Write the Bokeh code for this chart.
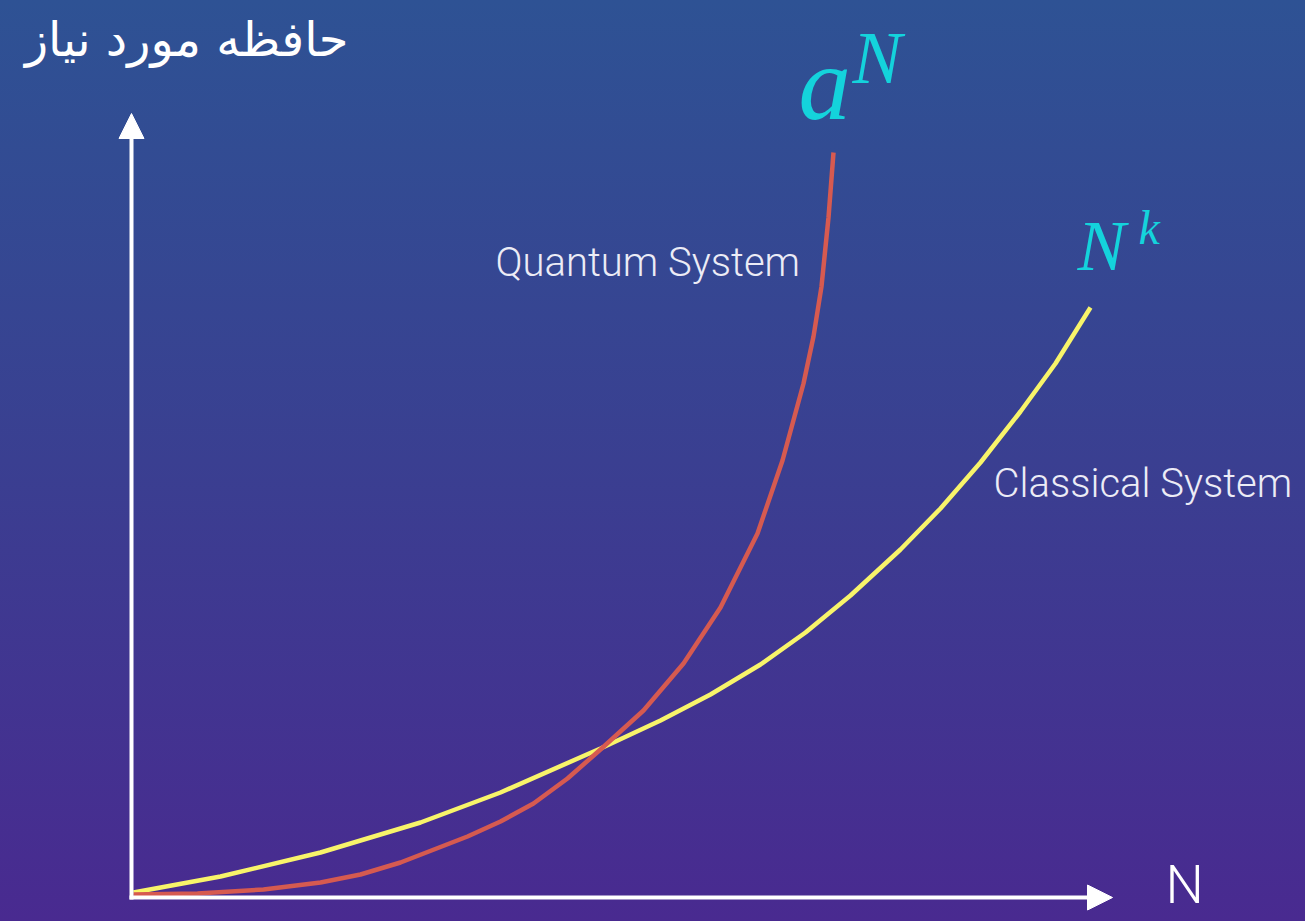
from bokeh.plotting import figure
from bokeh.models import Range1d, Arrow, NormalHead, GlobalInlineStyleSheet, Label
from bokeh.embed import file_html
from bokeh.resources import INLINE

# ---- data (N on x, memory on y; arbitrary units) ----
quantum_x = [0.00, 0.64, 1.30, 1.87, 2.27, 2.67, 3.34, 3.67, 4.00, 4.34,
             4.67, 5.10, 5.50, 5.87, 6.24, 6.49, 6.70, 6.80, 6.88, 6.95, 7.00]
quantum_y = [0.00, 0.01, 0.05, 0.12, 0.20, 0.32, 0.58, 0.73, 0.91, 1.16,
             1.45, 1.84, 2.31, 2.87, 3.61, 4.34, 5.11, 5.58, 6.08, 6.77, 7.42]

classical_x = [0.00, 0.87, 1.87, 2.87, 3.67, 4.67, 5.27, 5.77, 6.27, 6.72,
               7.17, 7.67, 8.07, 8.47, 8.87, 9.22, 9.57]
classical_y = [0.02, 0.18, 0.42, 0.72, 1.02, 1.46, 1.74, 2.00, 2.30, 2.62,
               2.99, 3.45, 3.86, 4.32, 4.83, 5.31, 5.87]

y_label = "حافظه مورد نیاز"
x_label = "N"
quantum_label = "Quantum System"
classical_label = "Classical System"

# ---- styling ----
W, H = 1305, 921
CYAN = "#14d3dc"
RED = "#d65a50"
YELLOW = "#f8f46a"
TXT = "#ececf6"
LIGHT = "Roboto Light"
MATH = "Liberation Serif"

css = GlobalInlineStyleSheet(css="""
html, body { margin:0; padding:0; overflow:hidden;
  background: linear-gradient(to bottom, #2e5294 0%, #3a3f91 50%, #492a90 100%); }
""")

p = figure(width=W, height=H, x_range=Range1d(-1.33, 11.72), y_range=Range1d(-0.27, 8.94),
           output_backend="svg", toolbar_location=None, min_border=0,
           x_axis_location=None, y_axis_location=None)
p.stylesheets = [css]
p.grid.visible = False
p.outline_line_color = None
p.background_fill_alpha = 0
p.border_fill_alpha = 0

AX0, AY0 = -0.02, -0.03
p.add_layout(Arrow(end=NormalHead(size=25, fill_color="white", line_color="white", line_width=1),
                   x_start=AX0, y_start=AY0 - 0.02, x_end=AX0, y_end=7.81,
                   line_color="white", line_width=4))
p.add_layout(Arrow(end=NormalHead(size=25, fill_color="white", line_color="white", line_width=1),
                   x_start=AX0 - 0.02, y_start=AY0, x_end=9.79, y_end=AY0,
                   line_color="white", line_width=4))

p.line(classical_x, classical_y, line_color=YELLOW, line_width=4.5, line_join="round")
p.line(quantum_x, quantum_y, line_color=RED, line_width=4.5, line_join="round")

def lab(text, x, baseline, size, font, color, style="normal", align="left"):
    # screen-unit label; baseline given from the top of the page
    p.add_layout(Label(x=x, y=H - baseline + 0.37 * size, x_units="screen", y_units="screen",
                       text=text, text_font=font, text_font_size=f"{size}px",
                       text_color=color, text_font_style=style, text_align=align,
                       text_baseline="alphabetic"))

lab(y_label, 348, 56, 48, "DejaVu Sans", "white", align="right")
lab(x_label, 1165, 904, 54, LIGHT, "white")
lab(quantum_label, 495, 277, 40, LIGHT, TXT)
lab(classical_label, 993, 498, 40, LIGHT, TXT)
lab("a", 798, 122, 105, MATH, CYAN, style="italic")
lab("N", 852, 85, 74, MATH, CYAN, style="italic")
lab("N", 1077, 272, 72, MATH, CYAN, style="italic")
lab("k", 1138, 245, 48, MATH, CYAN, style="italic")

open("out.html", "w").write(file_html(p, INLINE))
